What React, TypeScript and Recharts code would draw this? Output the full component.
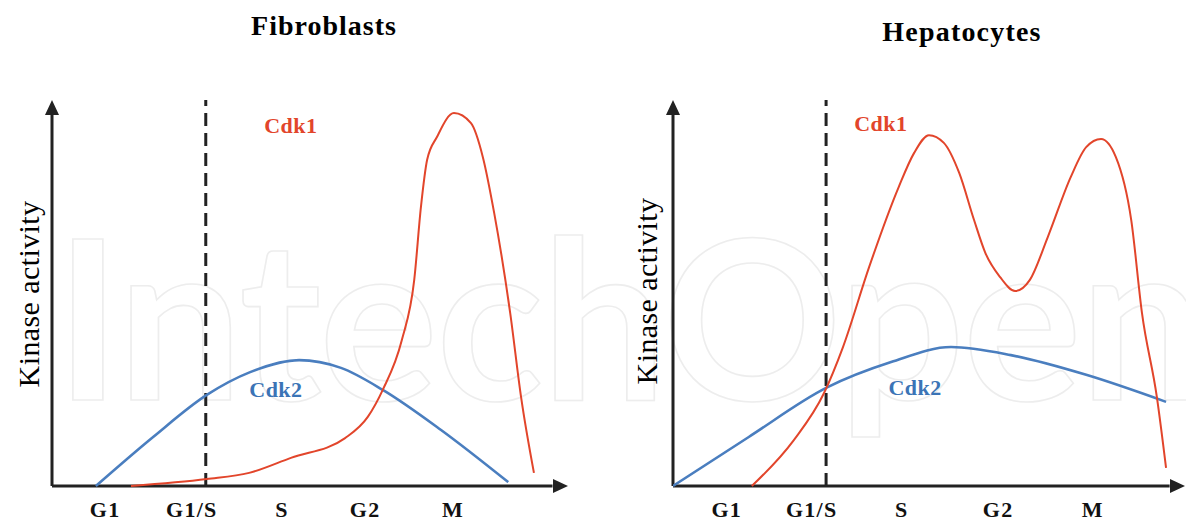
import React from 'react';
import { LineChart, Line, XAxis, YAxis, ReferenceLine, ReferenceDot } from 'recharts';

// phase labels on the x axis
const PHASES = ['G1', 'G1/S', 'S', 'G2', 'M'];
const FIBRO_TICKS = [10.3, 27.1, 44.6, 60.7, 77.7];
const HEPA_TICKS = [10.5, 27.1, 44.7, 63.5, 82.0];

// Fibroblasts
const fibroCdk1X = [15.3, 30.0, 38.2, 46.3, 56.8, 61.2, 64.1, 67.8, 70.2, 71.5, 72.7, 74.6, 77.9, 81.2, 83.5, 85.7, 88.8, 90.9, 93.4];
const fibroCdk1Y = [0, 1.8, 3.4, 7.3, 12.4, 17.9, 24.9, 37.8, 53.4, 72.3, 84.5, 90.4, 96.6, 94.0, 85.2, 70.7, 44.8, 23.1, 3.4];
const fibroCdk2X = [8.5, 19.6, 30.0, 38.4, 47.9, 56.0, 64.1, 75.4, 88.4];
const fibroCdk2Y = [0, 12.7, 23.6, 29.5, 32.6, 30.6, 24.9, 14.5, 1.0];

// Hepatocytes
const hepaCdk1X = [15.4, 23.6, 29.5, 33.2, 38.3, 44.1, 47.1, 50.0, 52.9, 55.9, 58.8, 61.0, 63.9, 66.8, 69.7, 73.2, 77.7, 80.7, 83.6, 86.5, 89.5, 91.6, 94.5, 96.3];
const hepaCdk1Y = [0, 11.9, 24.1, 36.0, 56.7, 77.5, 86.3, 90.9, 88.9, 81.1, 68.9, 60.4, 54.1, 50.5, 53.4, 64.5, 80.1, 87.8, 89.9, 85.2, 68.9, 44.8, 23.1, 4.7];
const hepaCdk2X = [0, 14.8, 29.9, 42.6, 54.3, 66.0, 80.7, 96.3];
const hepaCdk2Y = [0, 12.7, 25.4, 32.1, 36.0, 33.9, 28.8, 21.8];

const RED = '#e2452b';
const BLUE = '#4a7ebf';
const INK = '#222';
const SERIF = '"Liberation Serif", "Times New Roman", serif';

const toPoints = (xs: number[], ys: number[]) => xs.map((x, i) => ({ x, y: ys[i] }));

type PanelProps = {
  left: number;
  width: number;
  margin: { top: number; right: number; left: number; bottom: number };
  ticks: number[];
  cdk1: { x: number; y: number }[];
  cdk2: { x: number; y: number }[];
  gate: number;
  cdk1Label: [number, number];
  cdk2Label: [number, number];
};

const upArrow = (p: any) => (
  <path d={`M${p.cx},${p.cy} L${p.cx - 7},${p.cy + 15} L${p.cx + 7},${p.cy + 15} Z`} fill={INK} />
);
const rightArrow = (p: any) => (
  <path d={`M${p.cx},${p.cy} L${p.cx - 15},${p.cy - 7} L${p.cx - 15},${p.cy + 7} Z`} fill={INK} />
);
const textShape = (label: string, color: string) => (p: any) => (
  <text x={p.cx} y={p.cy} textAnchor="middle" dominantBaseline="central" fill={color}
    fontFamily={SERIF} fontWeight="bold" fontSize={22} letterSpacing={0.5}>{label}</text>
);

function Panel(props: PanelProps) {
  const { left, width, margin, ticks, cdk1, cdk2, gate, cdk1Label, cdk2Label } = props;
  return (
    <div style={{ position: 'absolute', left, top: 0 }}>
      <LineChart width={width} height={522} margin={margin}>
        <XAxis type="number" dataKey="x" domain={[0, 100]} ticks={ticks} allowDataOverflow
          axisLine={false} tickLine={false} tickSize={0} tickMargin={15} height={36} interval={0}
          tickFormatter={(v: number) => PHASES[ticks.indexOf(v)] ?? ''}
          tick={{ fill: '#111', fontFamily: SERIF, fontWeight: 'bold', fontSize: 22, letterSpacing: 1.3 }} />
        <YAxis type="number" domain={[0, 100]} hide />
        <ReferenceLine segment={[{ x: 0, y: 0 }, { x: 97, y: 0 }]} stroke={INK} strokeWidth={3} />
        <ReferenceLine segment={[{ x: 0, y: 0 }, { x: 0, y: 97 }]} stroke={INK} strokeWidth={3} />
        <ReferenceLine x={gate} stroke={INK} strokeWidth={3} strokeDasharray="13 7" />
        <ReferenceDot x={0} y={100} r={0} shape={upArrow} ifOverflow="visible" />
        <ReferenceDot x={100} y={0} r={0} shape={rightArrow} ifOverflow="visible" />
        <Line data={cdk2} dataKey="y" type="monotone" stroke={BLUE} strokeWidth={2.6} dot={false} isAnimationActive={false} />
        <Line data={cdk1} dataKey="y" type="monotone" stroke={RED} strokeWidth={2} dot={false} isAnimationActive={false} />
        <ReferenceDot x={cdk1Label[0]} y={cdk1Label[1]} r={0} shape={textShape('Cdk1', RED)} ifOverflow="visible" />
        <ReferenceDot x={cdk2Label[0]} y={cdk2Label[1]} r={0} shape={textShape('Cdk2', '#3b74b6')} ifOverflow="visible" />
      </LineChart>
    </div>
  );
}

export default function App() {
  return (
    <div style={{ position: 'absolute', left: 0, top: 0, width: 1186, height: 522, background: '#fff', overflow: 'hidden' }}>
      <svg width={1186} height={522} style={{ position: 'absolute', left: 0, top: 0 }}>
        <text x={55} y={400} fontFamily="Lato, sans-serif" fontWeight={700} fontSize={222}
          textLength={1150} lengthAdjust="spacing"
          fill="#fff" stroke="#ededed" strokeWidth={1.6}>IntechOpen</text>
        <text x={324} y={35} textAnchor="middle" fontFamily={SERIF} fontWeight="bold" fontSize={28}
          letterSpacing={1} fill="#000">Fibroblasts</text>
        <text x={962} y={41} textAnchor="middle" fontFamily={SERIF} fontWeight="bold" fontSize={28}
          letterSpacing={1.2} fill="#000">Hepatocytes</text>
        <text transform="translate(28,294) rotate(-90)" textAnchor="middle" dominantBaseline="central"
          fontFamily={SERIF} fontSize={30} letterSpacing={0.4} fill="#000">Kinase activity</text>
        <text transform="translate(646,291) rotate(-90)" textAnchor="middle" dominantBaseline="central"
          fontFamily={SERIF} fontSize={30} letterSpacing={0.4} fill="#000">Kinase activity</text>
      </svg>
      <Panel left={0} width={593} margin={{ top: 100, right: 25, left: 52, bottom: 0 }}
        ticks={FIBRO_TICKS} cdk1={toPoints(fibroCdk1X, fibroCdk1Y)} cdk2={toPoints(fibroCdk2X, fibroCdk2Y)}
        gate={29.8} cdk1Label={[46.3, 93.5]} cdk2Label={[43.4, 24.9]} />
      <Panel left={593} width={593} margin={{ top: 100, right: 1, left: 80, bottom: 0 }}
        ticks={HEPA_TICKS} cdk1={toPoints(hepaCdk1X, hepaCdk1Y)} cdk2={toPoints(hepaCdk2X, hepaCdk2Y)}
        gate={29.9} cdk1Label={[40.6, 93.8]} cdk2Label={[47.3, 25.6]} />
    </div>
  );
}
